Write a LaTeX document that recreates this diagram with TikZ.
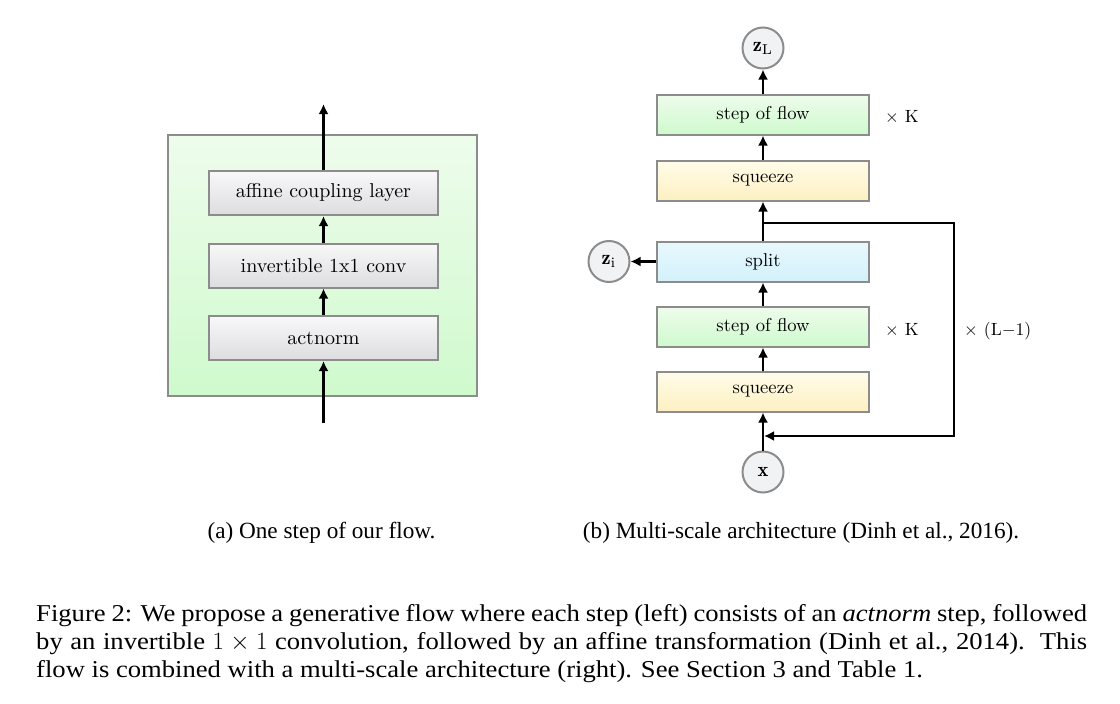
\documentclass[tikz,border=0pt]{standalone}
\usepackage{fontspec}
\usepackage{graphicx}
\newfontfamily\capfont{Liberation Serif}
\newfontfamily\bigcapfont[FakeStretch=1.1]{Liberation Serif}
\usetikzlibrary{arrows.meta}
\definecolor{bordergray}{HTML}{8C8C8C}
\definecolor{greytop}{HTML}{F8F8F9}
\definecolor{greybot}{HTML}{DDDDE0}
\definecolor{greentop}{HTML}{EEFCEC}
\definecolor{greenbot}{HTML}{CFFACD}
\definecolor{yellowtop}{HTML}{FFFCEA}
\definecolor{yellowbot}{HTML}{FDF0C2}
\definecolor{bluetop}{HTML}{E8F8FD}
\definecolor{bluebot}{HTML}{D3F1FB}
\definecolor{circfill}{HTML}{F1F2F4}
\newcommand{\ltxt}[1]{\scalebox{2.0}{#1}}
\newcommand{\rtxt}[1]{\scalebox{1.86}{#1}}
\newcommand{\ctxt}[1]{\scalebox{2.05}{#1}}
\newcommand{\ktxt}[1]{\scalebox{1.77}{#1}}
\tikzset{
  box/.style={draw=bordergray, line width=2pt, rectangle, inner sep=0pt,
    minimum width=229pt, minimum height=44pt, font=\fontsize{10}{12}\selectfont,
    top color=greytop, bottom color=greybot},
  rbox/.style={draw=bordergray, line width=2pt, rectangle, inner sep=0pt,
    minimum width=212pt, minimum height=40pt, font=\fontsize{10}{12}\selectfont},
  greenbox/.style={rbox, top color=greentop, bottom color=greenbot},
  yellowbox/.style={rbox, top color=yellowtop, bottom color=yellowbot},
  bluebox/.style={rbox, top color=bluetop, bottom color=bluebot},
  circ/.style={draw=bordergray, line width=2pt, circle, fill=circfill,
    minimum size=41pt, inner sep=0pt, font=\fontsize{10}{12}\selectfont},
  arr/.style={line width=2.4pt, -{Latex[length=10pt,width=10pt]}},
  lab/.style={font=\fontsize{10}{12}\selectfont, inner sep=0pt},
  subcap/.style={font=\capfont\fontsize{23.2}{28}\selectfont, inner sep=0pt},
  captext/.style={font=\bigcapfont\fontsize{24.2}{28}\selectfont, inner sep=0pt}
}
\begin{document}
\begin{tikzpicture}[x=1pt,y=-1pt]
\useasboundingbox (0,0) rectangle (1120,704);
% ---------- left panel ----------
\node[draw=bordergray, line width=2pt, top color=greentop, bottom color=greenbot,
  minimum width=309pt, minimum height=261pt, inner sep=0pt] (outer) at (322.5,265.5) {};
\node[box] (aff) at (323.5,193) {\ltxt{affine coupling layer}};
\node[box] (inv) at (323.5,265.5) {\ltxt{invertible 1x1 conv}};
\node[box] (act) at (323.5,338) {\ltxt{actnorm}};
\coordinate (lin) at (323.5,423);
\coordinate (lout) at (323.5,104);
\draw[arr] (lin) -- (act.south);
\draw[arr] (act.north) -- (inv.south);
\draw[arr] (inv.north) -- (aff.south);
\draw[arr] (aff.north) -- (lout);
% ---------- right panel ----------
\node[circ] (zL) at (763,48) {\ctxt{$\mathbf{z}_\mathrm{L}$}};
\node[greenbox] (sf2) at (763,114.5) {\rtxt{step of flow}};
\node[yellowbox] (sq2) at (763,180.5) {\rtxt{squeeze}};
\node[bluebox] (split) at (763,261.5) {\rtxt{split}};
\node[greenbox] (sf1) at (763,326.5) {\rtxt{step of flow}};
\node[yellowbox] (sq1) at (763,391.5) {\rtxt{squeeze}};
\node[circ] (x) at (763,472) {\ctxt{$\mathbf{x}$}};
\node[circ] (zi) at (609,261.5) {\ctxt{$\mathbf{z}_\mathrm{i}$}};
\draw[arr] (x.north) -- (sq1.south);
\draw[arr] (sq1.north) -- (sf1.south);
\draw[arr] (sf1.north) -- (split.south);
\draw[arr] (split.north) -- (sq2.south);
\draw[arr] (sq2.north) -- (sf2.south);
\draw[arr] (sf2.north) -- (zL.south);
\draw[arr] (split.west) -- (zi.east);
\coordinate (lt) at (763,223);
\coordinate (rt) at (954,223);
\coordinate (rb) at (954,436);
\coordinate (lb) at (764,436);
\draw[line width=2.4pt, -{Latex[length=10pt,width=10pt]}] (lt) -- (rt) -- (rb) -- (lb);
\node[lab, anchor=base west] (k2) at (885,122) {\ktxt{$\times$ K}};
\node[lab, anchor=base west] (k1) at (885,335) {\ktxt{$\times$ K}};
\node[lab, anchor=base west] (l1) at (964,335) {\ktxt{$\times$ (L$-$1)}};
% ---------- captions ----------
\node[subcap, anchor=base] (ca) at (321.5,538) {(a) One step of our flow.};
\node[subcap, anchor=base] (cb) at (801,538) {(b) Multi-scale architecture (Dinh et al., 2016).};
\node[captext, anchor=base west] (c1) at (36,621) {\makebox[1051pt][s]{Figure 2: We propose a generative flow where each step (left) consists of an \textit{actnorm} step, followed}};
\node[captext, anchor=base west] (c2) at (36,649) {\makebox[1051pt][s]{by an invertible $1\times 1$ convolution, followed by an affine transformation (Dinh et al., 2014).\ \ This}};
\node[captext, anchor=base west] (c3) at (36,677) {flow is combined with a multi-scale architecture (right). See Section 3 and Table 1.};
\end{tikzpicture}
\end{document}
